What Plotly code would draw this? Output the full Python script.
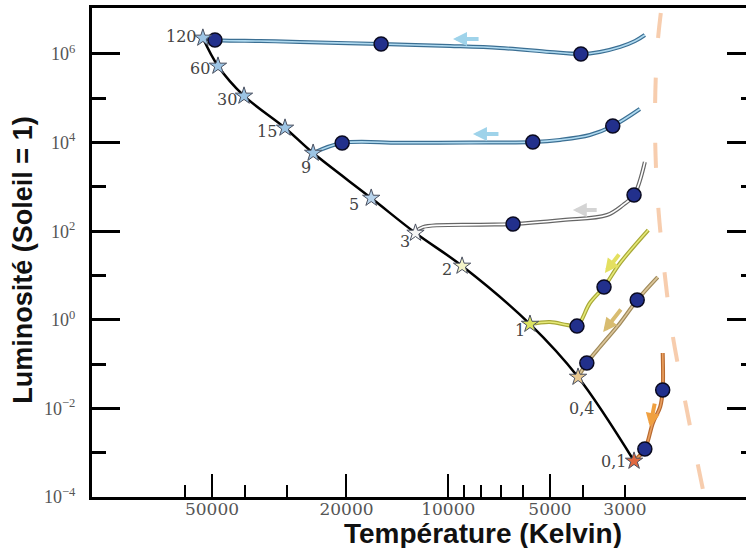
import numpy as np
import plotly.graph_objects as go

# ---------------- data ----------------
# main sequence stars: mass labels, temperature (K), luminosity (L_sun)
ms_labels = ["120", "60", "30", "15", "9", "5", "3", "2", "1", "0,4", "0,1"]
ms_temp = [53200, 48000, 40200, 30400, 25100, 16900, 12500, 9100, 5730, 4130, 2820]
ms_lum = [2.3e6, 5.36e5, 1.13e5, 2.14e4, 5.8e3, 560, 91, 16.4, 0.80, 0.051, 6.5e-4]

# evolutionary tracks
t120_T = [53200, 49000, 36000, 27500, 15800, 9880, 7030, 5000, 4050, 3560, 3100, 2800, 2620]
t120_L = [2.3e6, 2.07e6, 1.96e6, 1.87e6, 1.68e6, 1.52e6, 1.37e6, 1.11e6, 1.0e6, 1.11e6, 1.44e6, 1.96e6, 2.68e6]
t9_T = [25100, 20600, 13900, 8630, 5620, 4670, 3810, 3260, 2710]
t9_L = [5820, 9800, 9900, 1.0e4, 1.03e4, 1.15e4, 1.48e4, 2.37e4, 5.73e4]
t3_T = [12540, 11880, 8050, 6430, 4580, 3390, 3040, 2820, 2620]
t3_L = [96, 124, 140, 145, 179, 232, 390, 656, 3650]
t1_T = [5730, 5000, 4450, 4160, 3810, 3460, 3100, 2560]
t1_L = [0.80, 0.89, 0.76, 0.72, 2.39, 5.5, 19.1, 106]
t04_T = [4130, 3890, 3560, 3100, 2760, 2400]
t04_L = [0.051, 0.106, 0.243, 0.85, 2.80, 9.2]
t01_T = [2820, 2620, 2480, 2360, 2320, 2320]
t01_L = [6.5e-4, 1.21e-3, 4.7e-3, 0.0108, 0.026, 0.178]

# dots on the tracks
dot_T = [49000, 15800, 4050, 20600, 5620, 3260, 6430, 2820, 4160, 3460, 3890, 2760, 2620, 2320]
dot_L = [2.07e6, 1.68e6, 1.0e6, 9800, 1.03e4, 2.37e4, 145, 656, 0.72, 5.5, 0.106, 2.8, 1.21e-3, 0.026]

# Hayashi limit (dashed)
hay_T = [2350, 2410, 2445, 2410, 2320, 2180, 1995, 1763]
hay_L = [8.4e6, 1.23e6, 3.24e4, 851, 29, 0.59, 0.0155, 1.45e-4]

# direction arrows (head / tail)
arr_head_T = [9680, 8450, 4280, 3440, 3480, 2530]
arr_head_L = [2.18e6, 1.56e4, 301, 11.4, 0.53, 3.8e-3]
arr_tail_T = [8050, 7030, 3600, 3100, 3060, 2445]
arr_tail_L = [2.18e6, 1.56e4, 301, 32.2, 1.85, 0.0139]

# axis ticks
x_major = [50000, 20000, 10000, 5000]
x_minor = [60000, 40000, 30000, 9000, 8000, 7000, 6000, 4000, 3000]
x_labels_vals = [50000, 20000, 10000, 5000, 3000]
x_labels_text = ["50000", "20000", "10000", "5000", "3000"]
y_major = [1e-4, 1e-2, 1, 1e2, 1e4, 1e6]
y_major_text = ["10<sup>−4</sup>", "10<sup>−2</sup>", "10<sup>0</sup>", "10<sup>2</sup>", "10<sup>4</sup>", "10<sup>6</sup>"]
y_minor = [1e-3, 1e-1, 10, 1e3, 1e5]

# ---------------- styles ----------------
star_colors = ["#9cc4e4"] * 5 + ["#b8d4ec", "#f6f6f6", "#f4f4c8", "#dce460", "#e8c890", "#e06840"]
label_dx = [-21, -18, -17, -18, -7, -17, -10, -15, -10, 3, -21]
label_dy = [1, -3, -4, -4, -14, -6, -8, -4, -6, -31, -1]
arrow_colors = ["#9fd3ea", "#9fd3ea", "#d4d4d4", "#e4e060", "#d8bc70", "#f0a040"]

XR = [5.054, 3.119]
YR = [-4.0, 7.038]

fig = go.Figure()

# Hayashi dashed line
fig.add_trace(go.Scatter(x=hay_T, y=hay_L, mode="lines",
                         line=dict(color="rgba(242,172,120,0.6)", width=4, dash="25px,40px", shape="spline"),
                         hoverinfo="skip", showlegend=False))

# tracks: outline + inner line
tracks = [
    (t120_T, t120_L, "#3b6f93", "#b0daf0"),
    (t9_T, t9_L, "#3b6f93", "#b0daf0"),
    (t3_T, t3_L, "#666666", "#ffffff"),
    (t1_T, t1_L, "#a8a838", "#e6ea78"),
    (t04_T, t04_L, "#a08a5a", "#dcc69a"),
    (t01_T, t01_L, "#b86a30", "#eaa060"),
]
for tT, tL, c_out, c_in in tracks:
    fig.add_trace(go.Scatter(x=tT, y=tL, mode="lines",
                             line=dict(color=c_out, width=4, shape="spline"),
                             hoverinfo="skip", showlegend=False))
    fig.add_trace(go.Scatter(x=tT, y=tL, mode="lines",
                             line=dict(color=c_in, width=1.6, shape="spline"),
                             hoverinfo="skip", showlegend=False))

# main sequence
fig.add_trace(go.Scatter(x=ms_temp, y=ms_lum, mode="lines",
                         line=dict(color="black", width=2.5, shape="spline"),
                         hoverinfo="skip", showlegend=False))

# dots
fig.add_trace(go.Scatter(x=dot_T, y=dot_L, mode="markers",
                         marker=dict(size=14, color="#22308c", line=dict(color="#0a0a20", width=1.5)),
                         hoverinfo="skip", showlegend=False))

# stars
fig.add_trace(go.Scatter(x=ms_temp, y=ms_lum, mode="markers",
                         marker=dict(symbol="star", size=13, color=star_colors,
                                     line=dict(color="#4a5060", width=1)),
                         hoverinfo="skip", showlegend=False))

# invisible traces for overlay axes
fig.add_trace(go.Scatter(x=[1e4], y=[1], xaxis="x2", yaxis="y", mode="markers",
                         marker=dict(opacity=0), hoverinfo="skip", showlegend=False))
fig.add_trace(go.Scatter(x=[1e4], y=[1], xaxis="x", yaxis="y2", mode="markers",
                         marker=dict(opacity=0), hoverinfo="skip", showlegend=False))

annotations = []
for lab, T, L, dx, dy in zip(ms_labels, ms_temp, ms_lum, label_dx, label_dy):
    annotations.append(dict(x=np.log10(T), y=np.log10(L), xref="x", yref="y", text=lab,
                            showarrow=False, xshift=dx, yshift=dy,
                            font=dict(family="DejaVu Serif", size=16, color="#444444")))
for hT, hL, tT, tL, c in zip(arr_head_T, arr_head_L, arr_tail_T, arr_tail_L, arrow_colors):
    annotations.append(dict(x=np.log10(hT), y=np.log10(hL), ax=np.log10(tT), ay=np.log10(tL),
                            xref="x", yref="y", axref="x", ayref="y", text="",
                            showarrow=True, arrowhead=2, arrowsize=0.7, arrowwidth=4,
                            arrowcolor=c))
annotations.append(dict(x=0.5986, y=-0.039, xref="paper", yref="paper", yanchor="top",
                        xanchor="center",
                        text="<b>Température (Kelvin)</b>", showarrow=False,
                        font=dict(family="Liberation Sans", size=28, color="#111111")))
annotations.append(dict(x=-0.106, y=0.4847, xref="paper", yref="paper", textangle=-90,
                        xanchor="center", yanchor="middle",
                        text="<b>Luminosité (Soleil = 1)</b>", showarrow=False,
                        font=dict(family="Liberation Sans", size=27, color="#111111")))

fig.update_layout(
    width=746, height=548,
    margin=dict(l=92, r=0, t=8, b=51),
    paper_bgcolor="white", plot_bgcolor="white",
    showlegend=False,
    annotations=annotations,
    xaxis=dict(type="log", range=XR, showline=True, linewidth=2.5, linecolor="black", mirror=True,
               ticks="inside", ticklen=23, tickwidth=2, tickcolor="black",
               tickmode="array", tickvals=x_major, showticklabels=False,
               showgrid=False, zeroline=False,
               minor=dict(tickmode="array", tickvals=x_minor, ticks="inside", ticklen=12,
                          tickwidth=2, tickcolor="black", showgrid=False)),
    xaxis2=dict(type="log", range=XR, overlaying="x", anchor="y", side="bottom",
                showline=False, showgrid=False, zeroline=False,
                tickmode="array", tickvals=x_labels_vals, ticktext=x_labels_text,
                ticks="",
                tickfont=dict(family="DejaVu Serif", size=17, color="#555555")),
    yaxis=dict(type="log", range=YR, showline=True, linewidth=3, linecolor="black",
               ticks="inside", ticklen=28, tickwidth=2.5, tickcolor="black",
               tickmode="array", tickvals=y_major, ticktext=y_major_text,
               ticklabelstandoff=10,
               tickfont=dict(family="Liberation Serif", size=18, color="#555555"),
               showgrid=False, zeroline=False,
               minor=dict(tickmode="array", tickvals=y_minor, ticks="inside", ticklen=14,
                          tickwidth=2.5, tickcolor="black", showgrid=False)),
    yaxis2=dict(type="log", range=YR, overlaying="y", anchor="x", side="right",
                showline=False, showgrid=False, zeroline=False,
                ticks="inside", ticklen=19, tickwidth=2.5, tickcolor="black",
                tickmode="array", tickvals=y_major, showticklabels=False,
                minor=dict(tickmode="array", tickvals=y_minor, ticks="inside", ticklen=5,
                           tickwidth=2.5, tickcolor="black", showgrid=False)),
)

fig.write_html("out.html")
